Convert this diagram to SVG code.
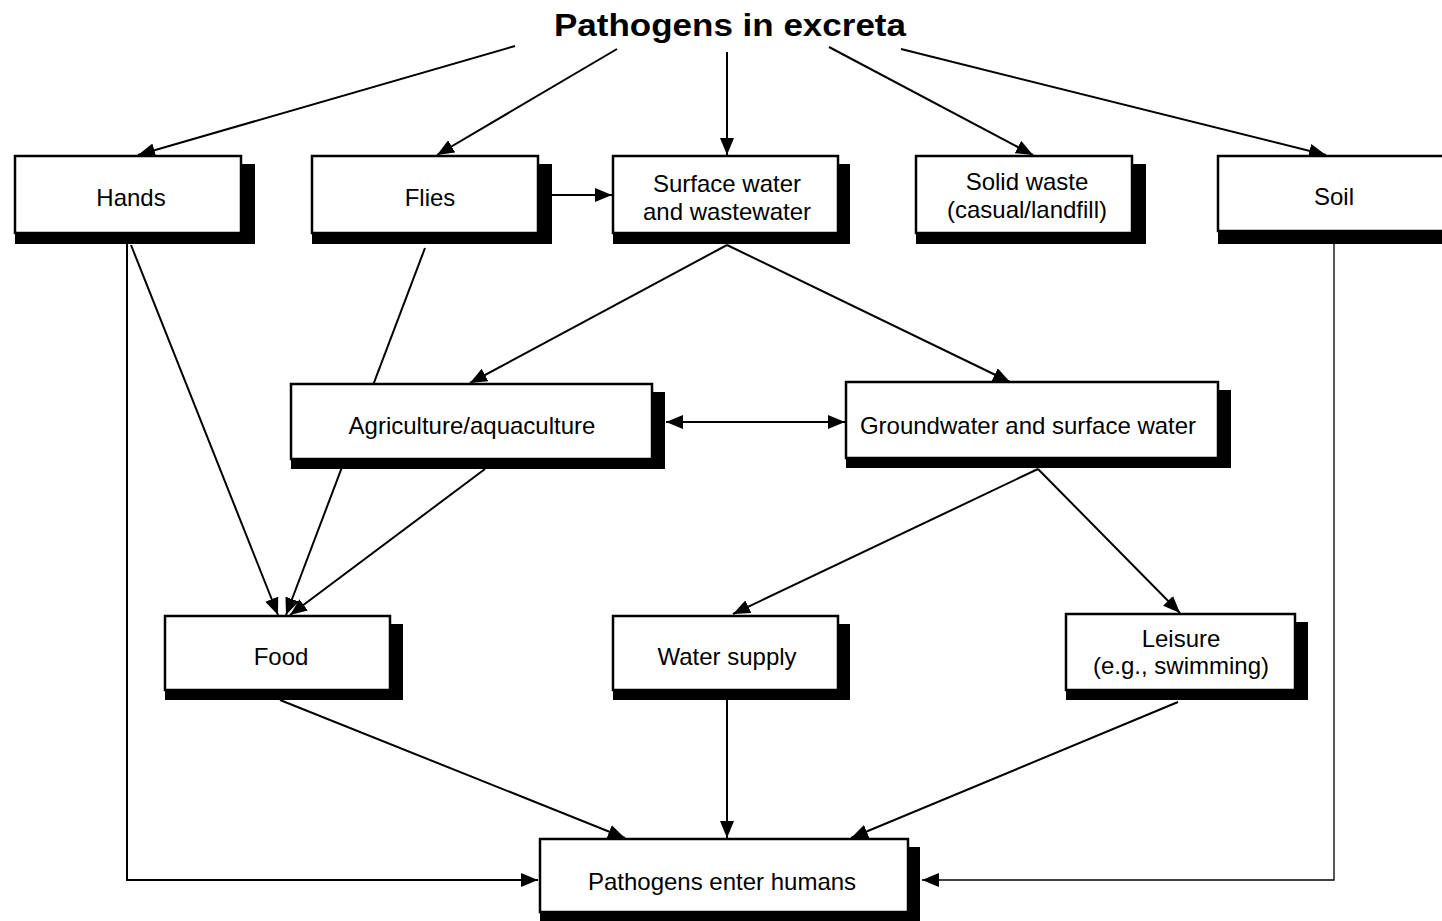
<svg xmlns="http://www.w3.org/2000/svg" width="1442" height="921" viewBox="0 0 1442 921">
<style>
.sh{fill:#000}
.bx{fill:#fff;stroke:#000;stroke-width:2.5}
.t{font-family:"Liberation Sans",Arial,Helvetica,sans-serif;font-size:24px;fill:#000;text-anchor:middle}
.title{font-family:"Liberation Sans",Arial,Helvetica,sans-serif;font-size:31px;font-weight:bold;fill:#000;text-anchor:middle}
.c{fill:none;stroke:#000;stroke-width:2}
.thin{fill:none;stroke:#000;stroke-width:1.3}
</style>
<defs>
<marker id="ah" markerUnits="userSpaceOnUse" markerWidth="18" markerHeight="14" refX="17" refY="7" orient="auto-start-reverse">
<path d="M0,0 L17,7 L0,14 z" fill="#000"/>
</marker>
</defs>
<rect width="1442" height="921" fill="#fff"/>
<text class="title" x="730" y="36" textLength="352" lengthAdjust="spacingAndGlyphs">Pathogens in excreta</text>
<g id="connectors">
<line class="c" x1="515" y1="46" x2="138" y2="155" marker-end="url(#ah)"/>
<line class="c" x1="617" y1="49" x2="437" y2="155" marker-end="url(#ah)"/>
<line class="c" x1="727" y1="52" x2="727" y2="155" marker-end="url(#ah)"/>
<line class="c" x1="829" y1="47" x2="1033" y2="155" marker-end="url(#ah)"/>
<line class="c" x1="901" y1="49" x2="1326" y2="155" marker-end="url(#ah)"/>
<line class="c" x1="552" y1="195" x2="612" y2="195" marker-end="url(#ah)"/>
<line class="c" x1="727" y1="245" x2="470" y2="383" marker-end="url(#ah)"/>
<line class="c" x1="727" y1="245" x2="1010" y2="382" marker-end="url(#ah)"/>
<line class="c" x1="666" y1="422" x2="845" y2="422" marker-start="url(#ah)" marker-end="url(#ah)"/>
<line class="c" x1="1038" y1="469" x2="733" y2="614" marker-end="url(#ah)"/>
<line class="c" x1="1038" y1="469" x2="1180" y2="613" marker-end="url(#ah)"/>
<line class="c" x1="131" y1="245" x2="278" y2="615" marker-end="url(#ah)"/>
<line class="c" x1="425" y1="248" x2="286" y2="615" marker-end="url(#ah)"/>
<line class="c" x1="485" y1="469" x2="290" y2="615" marker-end="url(#ah)"/>
<line class="c" x1="280" y1="700" x2="625" y2="838" marker-end="url(#ah)"/>
<line class="c" x1="727" y1="700" x2="727" y2="838" marker-end="url(#ah)"/>
<line class="c" x1="1178" y1="702" x2="851" y2="838" marker-end="url(#ah)"/>
<polyline class="c" points="127,244 127,880 538,880" marker-end="url(#ah)"/>
<polyline class="thin" points="1334,244 1334,880 922,880" marker-end="url(#ah)"/>
</g>
<g id="hands">
<rect class="sh" x="15" y="164" width="240" height="80"/>
<rect class="bx" x="15" y="156" width="226" height="77"/>
<text class="t" x="131" y="206">Hands</text>
</g>
<g id="flies">
<rect class="sh" x="312" y="164" width="240" height="80"/>
<rect class="bx" x="312" y="156" width="226" height="77"/>
<text class="t" x="430" y="206">Flies</text>
</g>
<g id="surface">
<rect class="sh" x="613" y="164" width="237" height="80"/>
<rect class="bx" x="613" y="156" width="225" height="77"/>
<text class="t" x="727" y="192">Surface water</text>
<text class="t" x="727" y="220">and wastewater</text>
</g>
<g id="solid">
<rect class="sh" x="916" y="164" width="230" height="80"/>
<rect class="bx" x="916" y="156" width="216" height="77"/>
<text class="t" x="1027" y="190">Solid waste</text>
<text class="t" x="1027" y="218">(casual/landfill)</text>
</g>
<g id="soil">
<rect class="sh" x="1218" y="164" width="240" height="80"/>
<rect class="bx" x="1218" y="156" width="240" height="75"/>
<text class="t" x="1334" y="205">Soil</text>
</g>
<g id="agriculture">
<rect class="sh" x="291" y="392" width="374" height="77"/>
<rect class="bx" x="291" y="384" width="361" height="75"/>
<text class="t" x="472" y="434">Agriculture/aquaculture</text>
</g>
<g id="groundwater">
<rect class="sh" x="846" y="390" width="385" height="78"/>
<rect class="bx" x="846" y="382" width="372" height="76"/>
<text class="t" x="1028" y="434">Groundwater and surface water</text>
</g>
<g id="food">
<rect class="sh" x="165" y="624" width="238" height="76"/>
<rect class="bx" x="165" y="616" width="225" height="74"/>
<text class="t" x="281" y="665">Food</text>
</g>
<g id="water-supply">
<rect class="sh" x="613" y="624" width="237" height="76"/>
<rect class="bx" x="613" y="616" width="225" height="74"/>
<text class="t" x="727" y="665">Water supply</text>
</g>
<g id="leisure">
<rect class="sh" x="1066" y="622" width="242" height="78"/>
<rect class="bx" x="1066" y="614" width="229" height="76"/>
<text class="t" x="1181" y="647">Leisure</text>
<text class="t" x="1181" y="674">(e.g., swimming)</text>
</g>
<g id="humans">
<rect class="sh" x="540" y="847" width="380" height="74"/>
<rect class="bx" x="540" y="839" width="368" height="73"/>
<text class="t" x="722" y="890">Pathogens enter humans</text>
</g>
</svg>
